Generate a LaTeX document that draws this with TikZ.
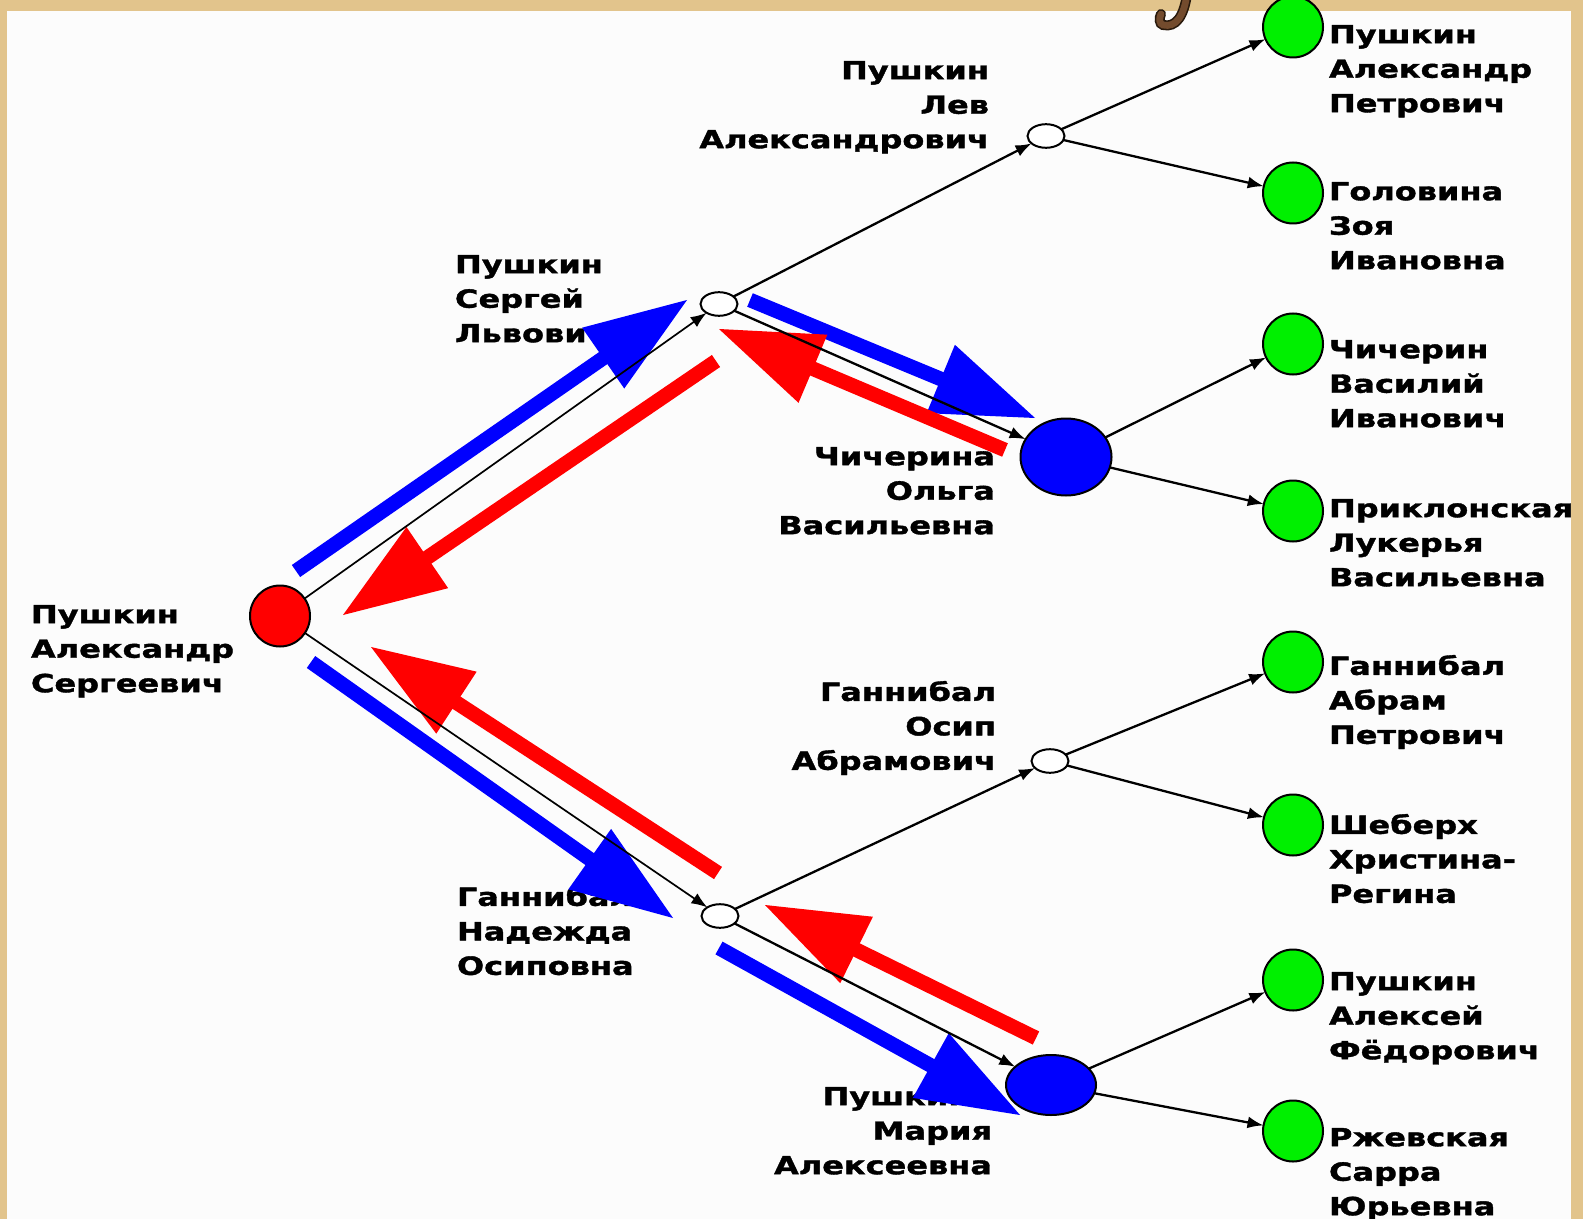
\documentclass[tikz,border=0pt]{standalone}
\usepackage{fontspec}
\newfontfamily\lab{DejaVu Sans}[FakeStretch=1.28,FakeBold=1.5]
\usetikzlibrary{shapes.geometric,arrows.meta,calc}
\definecolor{tanbg}{RGB}{226,196,140}
\definecolor{paper}{RGB}{252,252,252}
\definecolor{lgreen}{RGB}{0,240,0}
\definecolor{pblue}{RGB}{0,0,255}
\definecolor{pred}{RGB}{255,0,0}
\definecolor{hookbrown}{RGB}{115,75,45}
\definecolor{hookdark}{RGB}{40,25,12}
\newcommand\fatarrow[3]{%
  \path ($(#3)!51pt!(#2)$) coordinate (#3-b);
  \draw[#1, line width=7.3pt] (#2) -- ($(#3-b)!3pt!(#3)$);
  \fill[#1] (#3) -- ($(#3-b)!18.5pt!90:(#3)$) -- ($(#3-b)!18.5pt!-90:(#3)$) -- cycle;
}
\begin{document}
\begin{tikzpicture}[x=0.5pt,y=-0.5pt,
  lbl/.style={inner sep=0pt, outer sep=0pt, align=left, text=black,
    font=\lab\bfseries\fontsize{12.5pt}{17.25pt}\selectfont},
  lblr/.style={lbl, align=right},
  gnode/.style={ellipse, draw=black, line width=1pt, fill=lgreen,
    minimum width=30pt, minimum height=30.5pt, inner sep=0pt, outer sep=0pt},
  wnode/.style={ellipse, draw=black, line width=1pt, fill=white,
    minimum width=18.5pt, minimum height=11.8pt, inner sep=0pt, outer sep=0pt},
  bnode/.style={ellipse, draw=black, line width=1pt, fill=pblue,
    inner sep=0pt, outer sep=0pt},
  conn/.style={draw=black, line width=1.15pt, -{Latex[length=8pt,width=6pt]}},
]
% background
\useasboundingbox (0,0) rectangle (1583,1219);
\fill[tanbg] (0,0) rectangle (1583,1219);
\fill[paper] (7,11) rectangle (1571,1219);
% decorative hook
\draw[hookdark, line width=5pt, line cap=round] (1187,-6) .. controls (1184,16) and (1176,28) .. (1163,25) .. controls (1159,24) and (1159,18) .. (1161,14);
\draw[hookbrown, line width=3.4pt, line cap=round] (1187,-6) .. controls (1184,16) and (1176,28) .. (1163,25) .. controls (1159,24) and (1159,18) .. (1161,14);

% labels
\node[lbl, anchor=north west] (lg1) at (1329,25) {Пушкин\\Александр\\Петрович};
\node[lbl, anchor=north west] (lg2) at (1329,182) {Головина\\Зоя\\Ивановна};
\node[lbl, anchor=north west] (lg3) at (1329,340) {Чичерин\\Василий\\Иванович};
\node[lbl, anchor=north west] (lg4) at (1329,499) {Приклонская\\Лукерья\\Васильевна};
\node[lbl, anchor=north west] (lg5) at (1329,655) {Ганнибал\\Абрам\\Петрович};
\node[lbl, anchor=north west] (lg6) at (1329,814) {Шеберх\\Христина-\\Регина};
\node[lbl, anchor=north west] (lg7) at (1329,972) {Пушкин\\Алексей\\Фёдорович};
\node[lbl, anchor=north west] (lg8) at (1329,1128) {Ржевская\\Сарра\\Юрьевна};
\node[lblr, anchor=north east] (llev) at (989,61) {Пушкин\\Лев\\Александрович};
\node[lbl, anchor=north west] (lserg) at (455,255) {Пушкин\\Сергей\\Львович};
\node[lblr, anchor=north east] (lchich) at (995,447) {Чичерина\\Ольга\\Васильевна};
\node[lbl, anchor=north west] (lroot) at (31,605) {Пушкин\\Александр\\Сергеевич};
\node[lblr, anchor=north east] (losip) at (996,681) {Ганнибал\\Осип\\Абрамович};
\node[lbl, anchor=north west] (lnad) at (457,886) {Ганнибал\\Надежда\\Осиповна};
\node[lblr, anchor=north east] (lmar) at (992,1087) {Пушкина\\Мария\\Алексеевна};

% traversal arrows
\coordinate (a1s) at (296,571);  \coordinate (a1t) at (687,300);
\coordinate (a2s) at (716,361);  \coordinate (a2t) at (343,615);
\coordinate (a3s) at (750,300);  \coordinate (a3t) at (1035,418);
\coordinate (a4s) at (1005,450); \coordinate (a4t) at (719,329);
\coordinate (a5s) at (311,662);  \coordinate (a5t) at (673,918);
\coordinate (a6s) at (718,873);  \coordinate (a6t) at (371,647);
\coordinate (a7s) at (1036,1038); \coordinate (a7t) at (765,905);
\coordinate (a8s) at (719,948);  \coordinate (a8t) at (1020,1115);
\fatarrow{pblue}{a1s}{a1t}
\fatarrow{pred}{a2s}{a2t}
\fatarrow{pblue}{a3s}{a3t}
\fatarrow{pred}{a4s}{a4t}
\fatarrow{pblue}{a5s}{a5t}
\fatarrow{pred}{a6s}{a6t}
\fatarrow{pred}{a7s}{a7t}
\fatarrow{pblue}{a8s}{a8t}

% tree nodes
\node[ellipse, draw=black, line width=1pt, fill=pred, minimum width=30pt, minimum height=30.5pt, inner sep=0pt, outer sep=0pt] (root) at (280,616) {};
\node[wnode] (S) at (719,304) {};
\node[wnode] (L) at (1046,136) {};
\node[bnode, minimum width=45.5pt, minimum height=38.5pt] (C) at (1066,457) {};
\node[wnode] (N) at (720,916) {};
\node[wnode] (O) at (1050,761) {};
\node[bnode, minimum width=45pt, minimum height=30pt] (M) at (1051,1085) {};
\node[gnode] (g1) at (1293,27) {};
\node[gnode] (g2) at (1293,193) {};
\node[gnode] (g3) at (1293,344) {};
\node[gnode] (g4) at (1293,511) {};
\node[gnode] (g5) at (1293,662) {};
\node[gnode] (g6) at (1293,825) {};
\node[gnode] (g7) at (1293,980) {};
\node[gnode] (g8) at (1293,1131) {};

% edges
\draw[conn, line width=0.85pt] (root) -- (S);
\draw[conn, line width=0.85pt] (root) -- (N);
\draw[conn] (S) -- (L);
\draw[conn] (S) -- (C);
\draw[conn] (N) -- (O);
\draw[conn] (N) -- (M);
\draw[conn] (L) -- (g1);
\draw[conn] (L) -- (g2);
\draw[conn] (C) -- (g3);
\draw[conn] (C) -- (g4);
\draw[conn] (O) -- (g5);
\draw[conn] (O) -- (g6);
\draw[conn] (M) -- (g7);
\draw[conn] (M) -- (g8);
\end{tikzpicture}
\end{document}
